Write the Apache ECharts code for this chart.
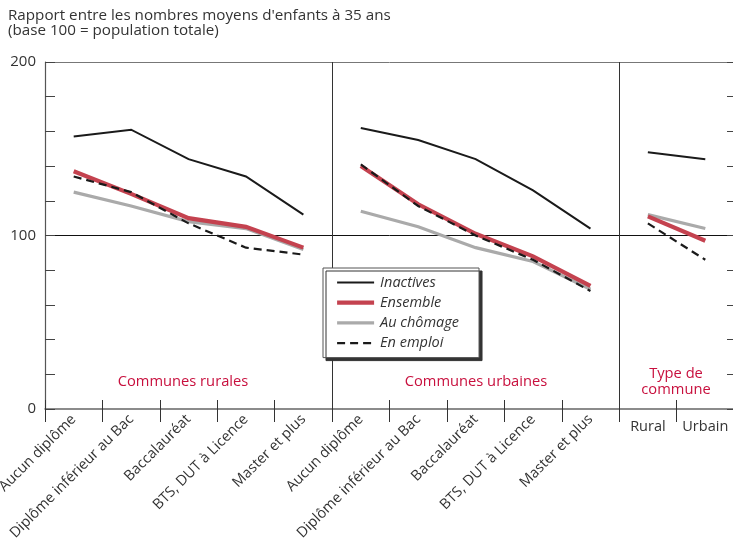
<!DOCTYPE html>
<html><head><meta charset="utf-8">
<script src="https://cdn.jsdelivr.net/npm/echarts@6/dist/echarts.min.js"></script>
<style>html,body{margin:0;padding:0;background:#fff}#c{width:733px;height:540px}</style>
</head><body><div id="c"></div>
<script>
// Categories
const diplomes = ['Aucun diplôme','Diplôme inférieur au Bac','Baccalauréat','BTS, DUT à Licence','Master et plus'];
const typesCommune = ['Rural','Urbain'];
const sectionTitles = ['Communes rurales','Communes urbaines','Type de\ncommune'];
const yTickLabels = [0, 100, 200];

// Values (base 100 = population totale)
const inactivesRurales   = [157, 161, 144, 134, 112];
const ensembleRurales    = [137, 124, 110, 105, 93];
const chomageRurales     = [125, 117, 108, 104, 92];
const emploiRurales      = [134, 125, 107, 93, 89];

const inactivesUrbaines  = [162, 155, 144, 126, 104];
const ensembleUrbaines   = [140, 118, 101, 88, 71];
const chomageUrbaines    = [114, 105, 93, 85, 69];
const emploiUrbaines     = [141, 117, 100, 86, 68];

const inactivesType      = [148, 144];
const ensembleType       = [111, 97];
const chomageType        = [112, 104];
const emploiType         = [107, 86];

const categories = [...diplomes, ...diplomes, ...typesCommune];

function place(vals, start) {
  const arr = new Array(categories.length).fill(null);
  vals.forEach((v, i) => arr[start + i] = v);
  return arr;
}

const styles = {
  'Au chômage': {color:'#aaaaaa', width:3.2, type:'solid', z:2},
  'Ensemble':   {color:'#c4424f', width:4.2, type:'solid', z:3},
  'En emploi':  {color:'#1a1a1a', width:2.2, type:[8,5], z:4},
  'Inactives':  {color:'#1a1a1a', width:2, type:'solid', z:5}
};
const groups = {
  'Au chômage': [chomageRurales, chomageUrbaines, chomageType],
  'Ensemble':   [ensembleRurales, ensembleUrbaines, ensembleType],
  'En emploi':  [emploiRurales, emploiUrbaines, emploiType],
  'Inactives':  [inactivesRurales, inactivesUrbaines, inactivesType]
};
const starts = [0, 5, 10];
const series = [];
Object.keys(groups).forEach(name => {
  const s = styles[name];
  groups[name].forEach((vals, k) => {
    series.push({
      name: name, type: 'line', data: place(vals, starts[k]),
      symbol: 'none', z: s.z, silent: true,
      itemStyle: {color: s.color},
      lineStyle: {color: s.color, width: s.width, type: s.type, cap: 'butt', join: 'miter'}
    });
  });
});

const font = '"Open Sans", "Noto Sans", sans-serif';
const red = '#c8103e';
const legendNames = ['Inactives','Ensemble','Au chômage','En emploi'];
const chart = echarts.init(document.getElementById('c'), null, {renderer: 'canvas'});
chart.setOption({
  animation: false,
  backgroundColor: '#fff',
  textStyle: {fontFamily: font},
  grid: {left: 45, right: -1, top: 62, bottom: 131, containLabel: false, outerBoundsMode: 'none'},
  legend: {
    data: legendNames.map(n => ({name: n, lineStyle: {width: styles[n].width, type: styles[n].type, color: styles[n].color}})),
    orient: 'vertical', left: 323, top: 268,
    itemWidth: 37, itemHeight: 14, itemGap: 5.2,
    padding: [7, 20, 7, 12],
    backgroundColor: '#fff', borderColor: '#555', borderWidth: 1,
    shadowColor: '#333', shadowBlur: 0, shadowOffsetX: 3, shadowOffsetY: 3,
    selectedMode: false,
    itemStyle: {opacity: 0, borderWidth: 0},
    textStyle: {fontFamily: font, fontSize: 14.5, fontStyle: 'italic', color: '#333', padding: [0,0,0,1]}
  },
  xAxis: [{
    type: 'category', data: categories, boundaryGap: true,
    axisLine: {show: true, lineStyle: {color: '#666', width: 1.5}},
    axisTick: {show: true, inside: false, length: 13, lineStyle: {color: '#333', width: 1}},
    axisLabel: {
      interval: 0, rotate: 45, margin: 8, color: '#333', fontSize: 14.5, fontFamily: font,
      formatter: (v, i) => i < 10 ? v : ''
    },
    splitLine: {show: true, interval: (i) => i === 5 || i === 10, lineStyle: {color: '#333', width: 1}}
  }, {
    type: 'category', data: categories, boundaryGap: true, position: 'bottom',
    axisLine: {show: false},
    axisTick: {show: true, inside: true, length: 9, lineStyle: {color: '#333', width: 1}},
    axisLabel: {
      interval: 0, rotate: 0, margin: 10, color: '#333', fontSize: 14.5, fontFamily: font,
      formatter: (v, i) => i >= 10 ? v : ''
    },
    splitLine: {show: false}
  }],
  yAxis: [{
    type: 'value', min: 0, max: 200, interval: 20,
    axisLine: {show: true, lineStyle: {color: '#555', width: 1.2}},
    axisTick: {show: true, inside: true, length: 10, lineStyle: {color: '#444'}},
    axisLabel: {
      color: '#333', fontSize: 15, margin: 9, fontFamily: font,
      formatter: v => yTickLabels.indexOf(v) >= 0 ? String(v) : ''
    },
    splitLine: {show: true, lineStyle: {width: 1,
      color: ['rgba(0,0,0,0)','rgba(0,0,0,0)','rgba(0,0,0,0)','rgba(0,0,0,0)','rgba(0,0,0,0)','#111',
              'rgba(0,0,0,0)','rgba(0,0,0,0)','rgba(0,0,0,0)','rgba(0,0,0,0)','#777']}}
  }, {
    type: 'value', min: 0, max: 200, interval: 20, position: 'right',
    axisLine: {show: true, lineStyle: {color: '#555'}},
    axisTick: {show: true, inside: true, length: 7, lineStyle: {color: '#444'}},
    axisLabel: {show: false}, splitLine: {show: false}
  }],
  graphic: [
    {type: 'text', left: 8, top: 8, style: {text: 'Rapport entre les nombres moyens d\'enfants à 35 ans\n(base 100 = population totale)',
      font: '15.2px ' + font, fill: '#333', lineHeight: 15}},
    {type: 'text', x: 183, y: 382, style: {text: sectionTitles[0], font: '14.7px ' + font, fill: red, align: 'center', verticalAlign: 'middle'}},
    {type: 'text', x: 476, y: 382, style: {text: sectionTitles[1], font: '14.7px ' + font, fill: red, align: 'center', verticalAlign: 'middle'}},
    {type: 'text', x: 676, y: 382, style: {text: sectionTitles[2], font: '14.7px ' + font, fill: red, align: 'center', verticalAlign: 'middle', lineHeight: 16}}
  ],
  series: series
});
</script></body></html>
